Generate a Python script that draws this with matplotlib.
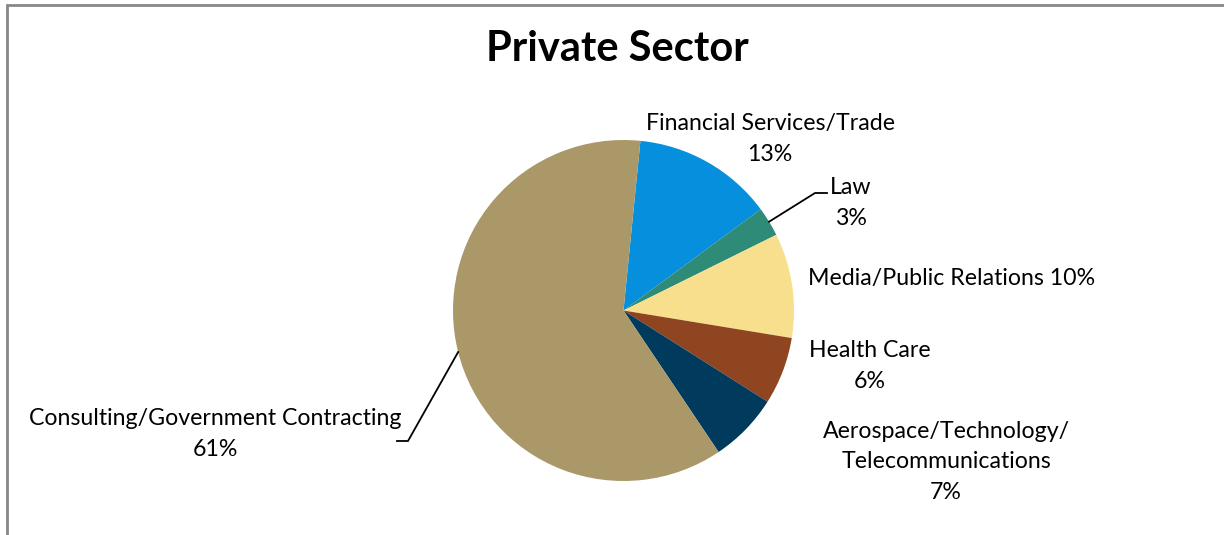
import numpy as np
import matplotlib.pyplot as plt

# data
sectors = ["Financial Services/Trade", "Law", "Media/Public Relations",
           "Health Care", "Aerospace/Technology/\nTelecommunications",
           "Consulting/Government Contracting"]
shares = [13.3, 2.8, 9.9, 6.4, 6.6, 61.0]
pct_labels = ["13%", "3%", "10%", "6%", "7%", "61%"]
colors = ["#058FDD", "#2E8B78", "#F7DF8E", "#8F4520", "#003A5C", "#AB9868"]

W, H = 1224, 535
plt.rcParams['font.family'] = ['Lato', 'DejaVu Sans']

fig = plt.figure(figsize=(W / 100, H / 100), dpi=100)
ax = fig.add_axes([0, 0, 1, 1])

cx, cy, r = 623.5, H - 310.5, 170.5
wedges, _ = ax.pie(shares, colors=colors, startangle=90 - 5.7, counterclock=False,
                   center=(cx, cy), radius=r, wedgeprops=dict(linewidth=0))
ax.set_xlim(0, W)
ax.set_ylim(0, H)
ax.set_aspect('equal')
ax.axis('off')

# chart border (only top and left visible in the crop)
ax.plot([7, 7, W], [0, H - 5, H - 5], color="#888888", lw=2, solid_joinstyle='miter')

ax.text(617, H - 49, "Private Sector", ha='center', va='center', fontsize=30,
        fontweight='bold')

fs = 16.7
# label positions (pixel coords from the top)
lab_pos = [(770, 139), (851, 203), (952, 279), (870, 366), (946, 462), (215, 434)]
for i, (name, pct) in enumerate(zip(sectors, pct_labels)):
    x, y = lab_pos[i]
    if i == 2:
        txt = name + " " + pct
    else:
        txt = name + "\n" + pct
    ax.text(x, H - y, txt, ha='center', va='center', fontsize=fs,
            linespacing=1.55)

# leader lines for Law and Consulting
def edge_point(w):
    a = np.deg2rad((w.theta1 + w.theta2) / 2)
    return cx + r * np.cos(a), cy + r * np.sin(a)

x0, y0 = edge_point(wedges[1])
ax.plot([x0, 815, 827], [y0, H - 193, H - 193], color="black", lw=1.3)
x0, y0 = edge_point(wedges[5])
ax.plot([x0, 408, 397], [y0, H - 441, H - 441], color="black", lw=1.3)

fig.savefig("out.png", dpi=100)
